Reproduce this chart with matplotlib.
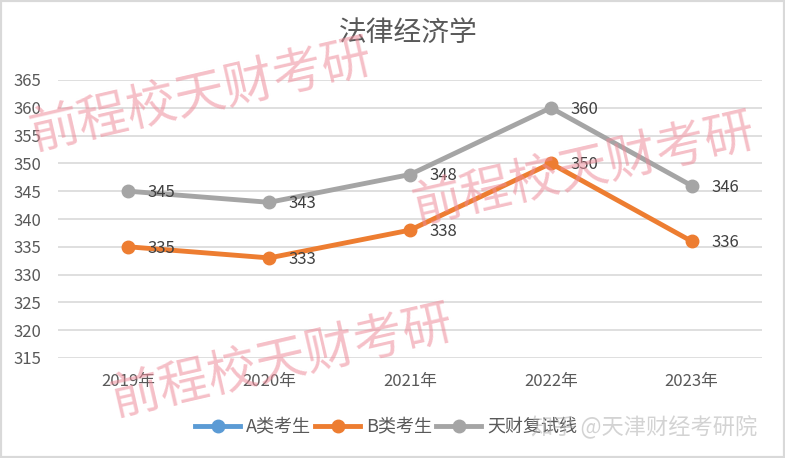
import numpy as np
import matplotlib.pyplot as plt
from matplotlib.patches import Rectangle

plt.rcParams["font.family"] = ["Noto Sans CJK SC", "DejaVu Sans"]

years = ["2019年", "2020年", "2021年", "2022年", "2023年"]
a_scores = [None, None, None, None, None]
b_scores = [335, 333, 338, 350, 336]
tc_scores = [345, 343, 348, 360, 346]
series_names = ["A类考生", "B类考生", "天财复试线"]
yticks = list(range(315, 366, 5))

colors = ["#5B9BD5", "#ED7D31", "#A5A5A5"]
txt = "#595959"

W, H = 785, 458
fig = plt.figure(figsize=(W / 100, H / 100), dpi=100)
ax = fig.add_axes([58 / W, 1 - 358 / H, (762 - 58) / W, (358 - 80) / H])

x = np.arange(len(years))
for vals, c, name in zip((a_scores, b_scores, tc_scores), colors, series_names):
    y = np.array([np.nan if v is None else v for v in vals], dtype=float)
    ax.plot(x, y, color=c, lw=3.5, marker="o", ms=9, label=name, zorder=3)
    for xi, yi in zip(x, y):
        if np.isfinite(yi):
            ax.annotate(f"{yi:.0f}", (xi, yi), xytext=(14, -1),
                        textcoords="offset points", va="center", ha="left",
                        fontsize=12, color="#404040", zorder=4)

ax.set_xlim(-0.5, len(years) - 0.5)
ax.set_ylim(315, 365)
ax.set_yticks(yticks)
ax.set_xticks(x)
ax.set_xticklabels(years)
ax.grid(axis="y", color="#D9D9D9", lw=1.2)
ax.set_axisbelow(True)
for s in ax.spines.values():
    s.set_visible(False)
ax.tick_params(length=0, labelsize=12, colors=txt)
ax.tick_params(axis="x", pad=11)
ax.tick_params(axis="y", pad=12)

fig.text(408 / W, 1 - 33 / H, "法律经济学", ha="center", va="center",
         fontsize=20, color=txt)

fig.legend(loc="center", bbox_to_anchor=(386 / W, 1 - 427 / H), ncol=3,
           frameon=False, fontsize=13, labelcolor=txt, handlelength=2.5,
           columnspacing=0.25, handletextpad=0.3, borderpad=0)

# watermarks
for cx, cy in [(201, 96), (584, 170), (282, 362)]:
    fig.text(cx / W, 1 - cy / H, "前程校天财考研", ha="center", va="center",
             rotation=13, fontsize=36, color="#EE8C9A", alpha=0.55, zorder=10)
fig.text(644 / W, 1 - 427 / H, "知乎 @天津财经考研院", ha="center", va="center",
         fontsize=16, color="#B0B0B0", alpha=0.55, zorder=10)

fig.patches.append(Rectangle((0, 0), 1, 1, transform=fig.transFigure,
                             fill=False, ec="#D9D9D9", lw=3))

fig.savefig("out.png", dpi=100)
